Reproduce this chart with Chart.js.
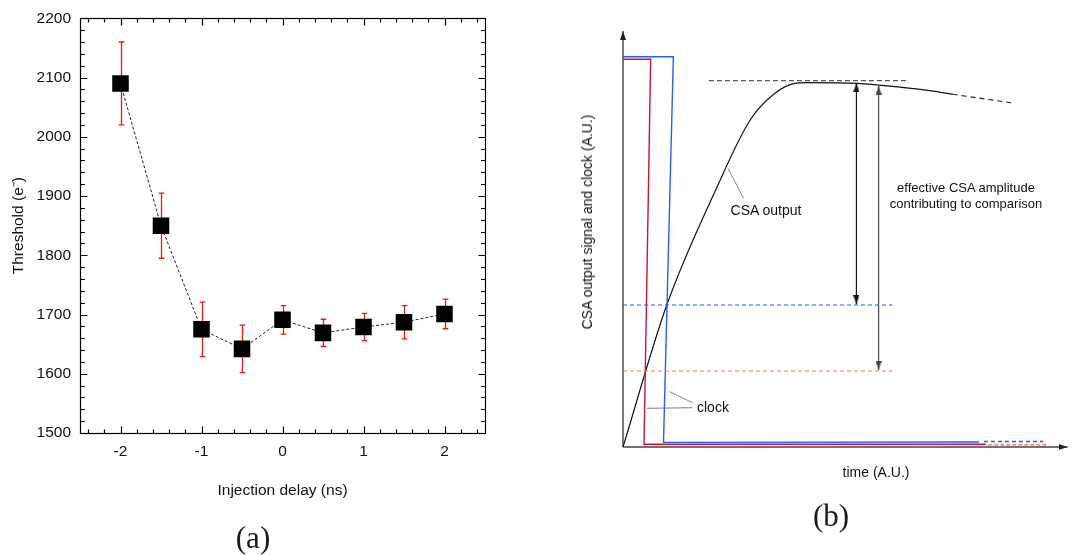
<!DOCTYPE html>
<html>
<head>
<meta charset="utf-8">
<script src="https://cdn.jsdelivr.net/npm/chart.js@4.4.0/dist/chart.umd.min.js"></script>
<style>
  html, body { margin: 0; padding: 0; background: #fff; width: 1073px; height: 555px; overflow: hidden; }
  #wrapA { position: absolute; left: 0; top: 0; width: 545px; height: 555px; }
  #wrapB { position: absolute; left: 545px; top: 0; width: 528px; height: 555px; }
  .note { position: absolute; font-family: "Liberation Sans", Arial, sans-serif; color: #111; white-space: nowrap; transform: translate(-50%, -50%); }
  .cap { position: absolute; font-family: "Liberation Serif", "DejaVu Serif", serif; font-size: 31px; color: #1a1a1a; transform: translate(-50%, -50%); }
</style>
</head>
<body>
<div id="wrapA"><canvas id="chartA" width="545" height="555"></canvas></div>
<div id="wrapB"><canvas id="chartB" width="528" height="555"></canvas></div>

<div class="cap" style="left:253px; top:538px;">(a)</div>
<div class="cap" style="left:831px; top:516px;">(b)</div>

<div class="note" style="left:766px; top:210px; font-size:14px;">CSA output</div>
<div class="note" style="left:966px; top:187px; font-size:13px;">effective CSA amplitude</div>
<div class="note" style="left:966px; top:203px; font-size:13px;">contributing to comparison</div>
<div class="note" style="left:697px; top:407px; font-size:14px; transform:translate(0,-50%);">clock</div>
<div class="note" style="left:876px; top:472px; font-size:14px;">time (A.U.)</div>
<div class="note" style="left:587px; top:222px; font-size:14px; transform:translate(-50%,-50%) rotate(-90deg);">CSA output signal and clock (A.U.)</div>

<script>
// ---------- (a) threshold versus injection delay ----------
const injectionDelay = [-2, -1.5, -1, -0.5, 0, 0.5, 1, 1.5, 2];          // ns
const threshold      = [2090, 1850, 1675, 1642, 1691, 1669, 1679, 1687, 1701]; // e-
const thresholdErr   = [70, 55, 46, 40, 24, 23, 23, 28, 25];
const delayTicks     = [-2, -1, 0, 1, 2];
const thresholdTicks = [1500, 1600, 1700, 1800, 1900, 2000, 2100, 2200];

// ---------- (b) CSA output and clock timing sketch (arbitrary units) ----------
const csaTime      = [0, 9.84, 21.18, 28.6, 34.16, 38.6, 41.5, 52.67, 57.49, 68.2, 74.16];
const csaLevel     = [0, 34.13, 62.57, 78.61, 85.02, 87.43, 87.6, 87.43, 87.0, 85.8, 84.78];
const csaTailTime  = [74.16, 88.22];
const csaTailLevel = [84.78, 82.62];
const peakTime     = [19.33, 64.16];
const peakLevel    = [88.05, 88.05];

const clockEarlyTime  = [0, 6.22, 4.73, 81.6];
const clockEarlyLevel = [93.2, 93.2, 0.66, 0.66];
const clockEarlyTailTime  = [82.16, 95.62];
const clockEarlyTailLevel = [0.55, 0.55];

const clockLateTime  = [0, 11.33, 9.11, 80.07];
const clockLateLevel = [93.82, 93.82, 1.1, 1.2];
const clockLateTailTime  = [81.18, 94.51];
const clockLateTailLevel = [1.32, 1.32];

const compLateTime   = [0, 60.6];
const compLateLevel  = [34.13, 34.13];
const compEarlyTime  = [0, 60.6];
const compEarlyLevel = [18.27, 18.27];

const ampLateTime   = [52.5, 52.5];
const ampLateLevel  = [87.5, 34.3];
const ampEarlyTime  = [57.49, 57.49];
const ampEarlyLevel = [86.85, 18.5];

const axisYTime = [0, 0],   axisYLevel = [0, 100];
const axisXTime = [0, 100], axisXLevel = [0, 0];

const csaLeaderTime   = [23.62, 27.11], csaLeaderLevel   = [66.99, 59.78];
const clockLeader1Time = [5.4, 15.62],  clockLeader1Level = [9.3, 9.45];
const clockLeader2Time = [10.44, 15.62], clockLeader2Level = [13.29, 10.65];

// ---------- helpers ----------
const pts = (xs, ys) => xs.map((x, i) => ({ x: x, y: ys[i] }));
const SANS = '"Liberation Sans", Arial, sans-serif';

// arrow head image: apex sits at the image centre, body extends downward
function arrowHead(color, w, h) {
  const c = document.createElement('canvas');
  c.width = w; c.height = 2 * h;
  const g = c.getContext('2d');
  g.fillStyle = color;
  g.beginPath();
  g.moveTo(w / 2, h);
  g.lineTo(w, 2 * h);
  g.lineTo(0, 2 * h);
  g.closePath();
  g.fill();
  return c;
}

// ---------- chart (a) ----------
const frameAndErrors = {
  id: 'frameAndErrors',
  beforeDatasetsDraw(chart) {
    const { ctx, scales: { x, y } } = chart;
    ctx.save();
    ctx.strokeStyle = '#e21a1a';
    ctx.lineWidth = 1.3;
    injectionDelay.forEach((d, i) => {
      const px = Math.round(x.getPixelForValue(d)) + 0.5;
      const top = y.getPixelForValue(threshold[i] + thresholdErr[i]);
      const bot = y.getPixelForValue(threshold[i] - thresholdErr[i]);
      ctx.beginPath();
      ctx.moveTo(px, top); ctx.lineTo(px, bot);
      ctx.moveTo(px - 2.8, top); ctx.lineTo(px + 2.8, top);
      ctx.moveTo(px - 2.8, bot); ctx.lineTo(px + 2.8, bot);
      ctx.stroke();
    });
    ctx.restore();
  },
  afterDatasetsDraw(chart) {
    const { ctx, chartArea: a, scales: { x, y } } = chart;
    ctx.save();
    ctx.strokeStyle = '#000';
    ctx.lineWidth = 1.2;
    const L = Math.round(a.left) + 0.5, R = Math.round(a.right) + 0.5;
    const T = Math.round(a.top) + 0.5, B = Math.round(a.bottom) + 0.5;
    ctx.strokeRect(L, T, R - L, B - T);
    ctx.beginPath();
    for (let k = -12; k <= 12; k++) {
      const px = Math.round(x.getPixelForValue(k * 0.2)) + 0.5;
      const len = k % 5 === 0 ? 7 : 4;
      ctx.moveTo(px, B); ctx.lineTo(px, B - len);
      ctx.moveTo(px, T); ctx.lineTo(px, T + len);
    }
    for (let v = 1520; v < 2200; v += 20) {
      const py = Math.round(y.getPixelForValue(v)) + 0.5;
      const len = v % 100 === 0 ? 7 : 4.5;
      ctx.moveTo(L, py); ctx.lineTo(L + len, py);
      ctx.moveTo(R, py); ctx.lineTo(R - len, py);
    }
    ctx.stroke();
    ctx.restore();
  }
};

new Chart(document.getElementById('chartA'), {
  type: 'scatter',
  data: {
    datasets: [{
      data: pts(injectionDelay, threshold),
      showLine: true,
      borderColor: '#222',
      borderWidth: 1,
      borderDash: [3, 2],
      pointStyle: 'rect',
      pointRadius: 11.7,
      pointBorderWidth: 0,
      pointBackgroundColor: '#000',
      pointBorderColor: '#000'
    }]
  },
  options: {
    responsive: false,
    animation: false,
    events: [],
    layout: { padding: { left: 0, top: 15, right: 60, bottom: 52 } },
    plugins: { legend: { display: false }, tooltip: { enabled: false } },
    scales: {
      x: {
        type: 'linear', min: -2.5, max: 2.5,
        afterBuildTicks: s => { s.ticks = delayTicks.map(v => ({ value: v })); },
        afterFit: s => { s.height = 70; },
        grid: { display: false, drawTicks: false },
        border: { display: false },
        ticks: { color: '#111', padding: 9.5, font: { family: SANS, size: 15.5 }, callback: v => String(v) },
        title: { display: true, text: 'Injection delay (ns)', color: '#111', font: { family: SANS, size: 15.5 }, padding: { top: 0, bottom: 3 } }
      },
      y: {
        type: 'linear', min: 1500, max: 2200,
        afterBuildTicks: s => { s.ticks = thresholdTicks.map(v => ({ value: v })); },
        afterFit: s => { s.width = 80; },
        grid: { display: false, drawTicks: false },
        border: { display: false },
        ticks: { color: '#111', padding: 9, font: { family: SANS, size: 15.5 }, callback: v => String(v) },
        title: { display: true, text: 'Threshold (e\u207B)', color: '#111', font: { family: SANS, size: 15.5 }, padding: { top: 9, bottom: 0 } }
      }
    }
  },
  plugins: [frameAndErrors]
});

// ---------- chart (b) ----------
const headAxis  = arrowHead('#222', 6, 9);
const headBlack = arrowHead('#111', 6, 9);
const headGray  = arrowHead('#444', 6, 9);

function line(xs, ys, color, width, dash, extra) {
  return Object.assign({
    data: pts(xs, ys),
    showLine: true,
    borderColor: color,
    borderWidth: width,
    borderDash: dash || [],
    pointRadius: 0,
    clip: false
  }, extra || {});
}

new Chart(document.getElementById('chartB'), {
  type: 'scatter',
  data: {
    datasets: [
      line(compLateTime, compLateLevel, '#2d55ee', 1.2, [4, 3]),
      line(compEarlyTime, compEarlyLevel, '#f37a64', 1.2, [4, 3]),
      line(peakTime, peakLevel, '#555', 1.2, [5, 3]),
      line(clockLateTailTime, clockLateTailLevel, '#2d55ee', 1.4, [4, 3]),
      line(clockEarlyTailTime, clockEarlyTailLevel, '#f7937c', 2, [4, 2]),
      line(clockEarlyTime, clockEarlyLevel, '#c4163a', 1.4),
      line(clockLateTime, clockLateLevel, '#2b5cf6', 1.4),
      line(csaTime, csaLevel, '#111', 1.2, [], { cubicInterpolationMode: 'monotone' }),
      line(csaTailTime, csaTailLevel, '#222', 1.1, [5, 4]),
      line(csaLeaderTime, csaLeaderLevel, '#8a8a8a', 1),
      line(clockLeader1Time, clockLeader1Level, '#9a9a9a', 1.2),
      line(clockLeader2Time, clockLeader2Level, '#8a8a8a', 1),
      line(ampLateTime, ampLateLevel, '#111', 1.2, [], { pointRadius: 4, pointStyle: headBlack, pointRotation: [0, 180] }),
      line(ampEarlyTime, ampEarlyLevel, '#555', 1.3, [], { pointRadius: 4, pointStyle: headGray, pointRotation: [0, 180] }),
      line(axisYTime, axisYLevel, '#444', 1.4, [], { pointRadius: [0, 4], pointStyle: headAxis, pointRotation: [0, 0] }),
      line(axisXTime, axisXLevel, '#444', 1.4, [], { pointRadius: [0, 4], pointStyle: headAxis, pointRotation: [0, 90] })
    ]
  },
  options: {
    responsive: false,
    animation: false,
    events: [],
    layout: { padding: { left: 78, top: 31, right: 0, bottom: 108 } },
    plugins: { legend: { display: false }, tooltip: { enabled: false } },
    scales: {
      x: { type: 'linear', min: 0, max: 100, display: false },
      y: { type: 'linear', min: 0, max: 100, display: false }
    }
  }
});
</script>
</body>
</html>
